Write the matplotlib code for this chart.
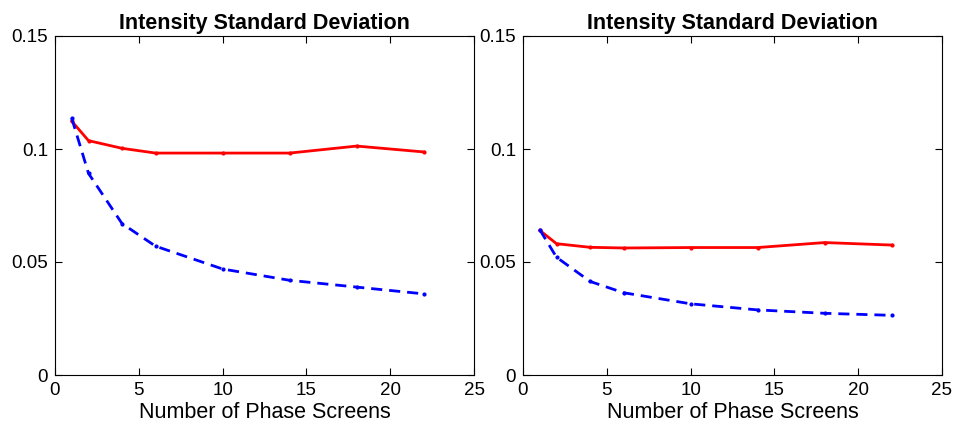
import matplotlib
matplotlib.use("Agg")
import matplotlib.pyplot as plt

plt.rcParams['font.family'] = ['Liberation Sans', 'DejaVu Sans']

screens = [1, 2, 4, 6, 10, 14, 18, 22]

# left panel
red_left = [0.1123, 0.1037, 0.1003, 0.0982, 0.0982, 0.0982, 0.1013, 0.0987]
blue_left = [0.1136, 0.0892, 0.0670, 0.0570, 0.0469, 0.0419, 0.0389, 0.0359]
# right panel
red_right = [0.0640, 0.0581, 0.0565, 0.0562, 0.0564, 0.0564, 0.0586, 0.0575]
blue_right = [0.0643, 0.0521, 0.0414, 0.0364, 0.0315, 0.0288, 0.0273, 0.0264]

xticks = [0, 5, 10, 15, 20, 25]
yticks = [0, 0.05, 0.1, 0.15]
ytick_labels = ["0", "0.05", "0.1", "0.15"]

fig = plt.figure(figsize=(9.57, 4.26), dpi=100)
ax1 = fig.add_axes([55/957, 51/426, 419/957, 339/426])
ax2 = fig.add_axes([523/957, 51/426, 419/957, 339/426])

for ax, red, blue in [(ax1, red_left, blue_left), (ax2, red_right, blue_right)]:
    ax.plot(screens, red, color="red", lw=2, marker=".", ms=4)
    ax.plot(screens, blue, color="blue", lw=2, ls=(0, (4, 2.5)), marker=".", ms=4)
    ax.set_xlim(0, 25)
    ax.set_ylim(0, 0.15)
    ax.set_xticks(xticks)
    ax.set_yticks(yticks)
    ax.set_yticklabels(ytick_labels)
    ax.tick_params(direction="in", top=True, right=True, labelsize=13.5, length=5, width=0.8, pad=5)
    ax.set_title("Intensity Standard Deviation", fontsize=15.5, fontweight="bold", pad=5)
    ax.set_xlabel("Number of Phase Screens", fontsize=15.5, labelpad=2)
    for s in ax.spines.values():
        s.set_linewidth(0.8)

fig.savefig("out.png", dpi=100)
